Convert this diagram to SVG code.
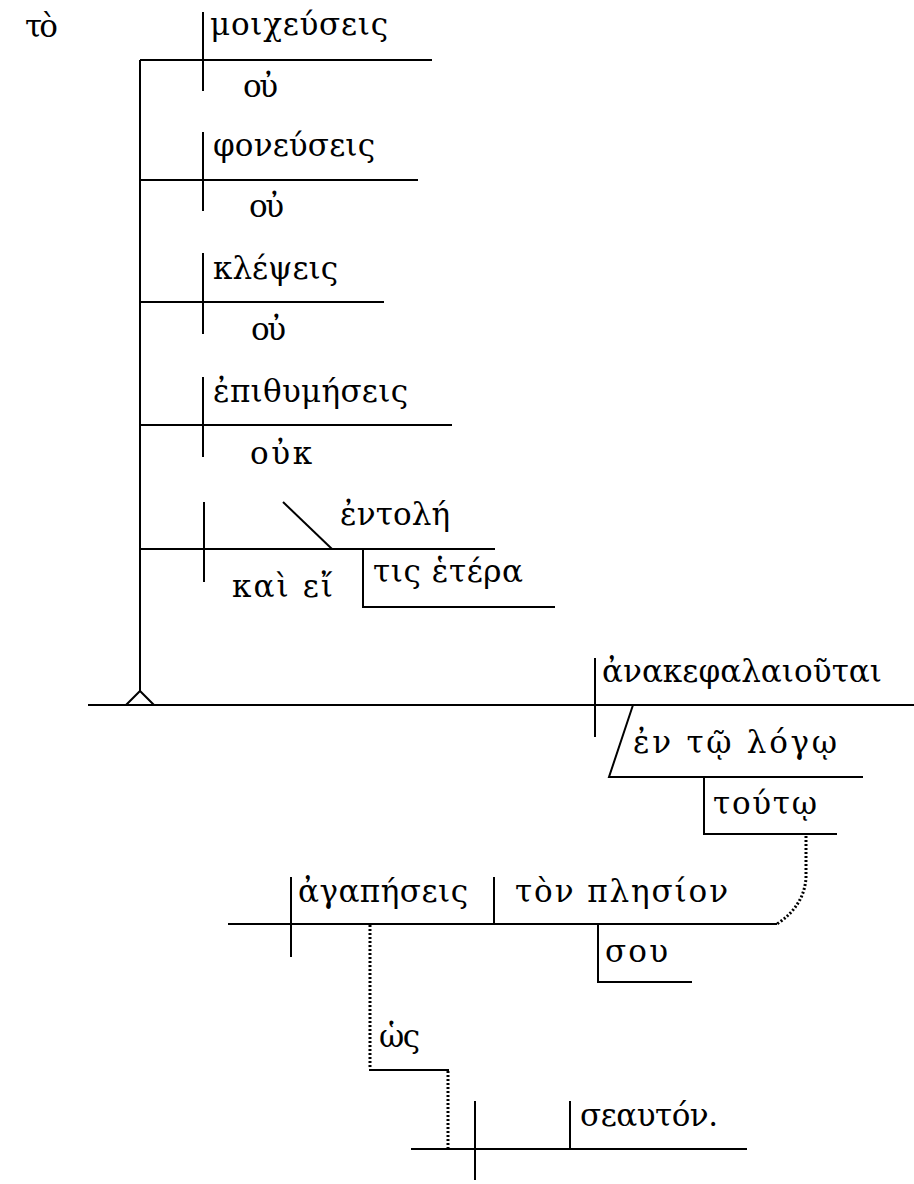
<svg xmlns="http://www.w3.org/2000/svg" width="914" height="1184" viewBox="0 0 914 1184">
<style>
.l{stroke:#000;stroke-width:2;fill:none}
.d{stroke:#000;stroke-width:3;fill:none;stroke-dasharray:2 2}
text{font-family:"DejaVu Serif","Liberation Serif",serif;font-size:31px;fill:#000}
</style>
<rect width="914" height="1184" fill="#fff"/>
<g id="connectors">
<line class="l" x1="140" y1="60" x2="140" y2="691"/>
<polyline class="l" points="126,705 140,691 154,705"/>
<line class="l" x1="88" y1="705" x2="914" y2="705"/>
<line class="l" x1="140" y1="60" x2="432" y2="60"/>
<line class="l" x1="140" y1="180" x2="418" y2="180"/>
<line class="l" x1="140" y1="302" x2="384" y2="302"/>
<line class="l" x1="140" y1="425" x2="452" y2="425"/>
<line class="l" x1="140" y1="549" x2="495" y2="549"/>
<path class="d" d="M806,836 L806,878 Q804,906 777,924"/>
<path class="d" d="M370,925 L370,1069"/>
<path class="d" d="M448,1071 L448,1148"/>
</g>
<g id="to"><text x="25" y="37" textLength="33">τὸ</text></g>
<g id="moicheuseis">
<line class="l" x1="203" y1="12" x2="203" y2="91"/>
<text x="210" y="35" textLength="178">μοιχεύσεις</text>
<text x="243" y="97" textLength="35">οὐ</text>
</g>
<g id="phoneuseis">
<line class="l" x1="203" y1="132" x2="203" y2="211"/>
<text x="213" y="156" textLength="162">φονεύσεις</text>
<text x="249" y="217" textLength="35">οὐ</text>
</g>
<g id="klepseis">
<line class="l" x1="203" y1="253" x2="203" y2="334"/>
<text x="213" y="279" textLength="125">κλέψεις</text>
<text x="251" y="340" textLength="35">οὐ</text>
</g>
<g id="epithymeseis">
<line class="l" x1="203" y1="377" x2="203" y2="457"/>
<text x="213" y="402" textLength="195">ἐπιθυμήσεις</text>
<text x="250" y="464" textLength="62">οὐκ</text>
</g>
<g id="entole">
<line class="l" x1="204" y1="502" x2="204" y2="582"/>
<line class="l" x1="283" y1="502" x2="332" y2="549"/>
<text x="340" y="525" textLength="110">ἐντολή</text>
<text x="232" y="597" textLength="101">καὶ εἴ</text>
<polyline class="l" points="363,549 363,607 555,607"/>
<text x="373" y="582" textLength="150">τις ἑτέρα</text>
</g>
<g id="anakephalaioutai">
<line class="l" x1="595" y1="658" x2="595" y2="737"/>
<text x="602" y="682" textLength="280">ἀνακεφαλαιοῦται</text>
<polyline class="l" points="633,705 609,777 863,777"/>
<text x="633" y="753" textLength="204">ἐν τῷ λόγῳ</text>
<polyline class="l" points="704,777 704,834 837,834"/>
<text x="713" y="814" textLength="104">τούτῳ</text>
</g>
<g id="agapeseis">
<line class="l" x1="228" y1="924" x2="777" y2="924"/>
<line class="l" x1="291" y1="877" x2="291" y2="957"/>
<line class="l" x1="494" y1="877" x2="494" y2="924"/>
<text x="298" y="902" textLength="170">ἀγαπήσεις</text>
<text x="515" y="902" textLength="213">τὸν πλησίον</text>
<polyline class="l" points="598,924 598,982 692,982"/>
<text x="605" y="962" textLength="63">σου</text>
</g>
<g id="hos">
<text x="379" y="1047" textLength="41">ὡς</text>
<line class="l" x1="369" y1="1070" x2="449" y2="1070"/>
</g>
<g id="seauton">
<line class="l" x1="411" y1="1149" x2="747" y2="1149"/>
<line class="l" x1="475" y1="1101" x2="475" y2="1180"/>
<line class="l" x1="570" y1="1101" x2="570" y2="1149"/>
<text x="580" y="1126" textLength="138">σεαυτόν.</text>
</g>
</svg>
